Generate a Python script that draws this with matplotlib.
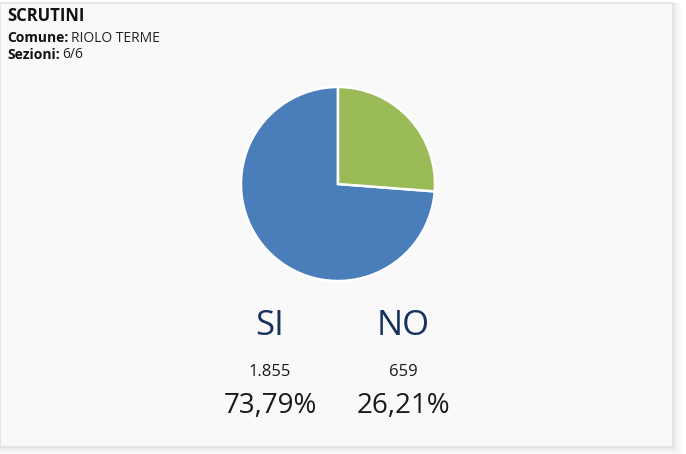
import matplotlib
matplotlib.use("Agg")
import matplotlib.pyplot as plt
from matplotlib.patches import Rectangle

labels = ["SI", "NO"]
votes = [1855, 659]
vote_labels = ["1.855", "659"]
pct_labels = ["73,79%", "26,21%"]
colors = ["#4a7ebb", "#9bbb59"]
title = "SCRUTINI"
comune = "RIOLO TERME"
sezioni = "6/6"

W, H = 686, 454
fig = plt.figure(figsize=(W / 100, H / 100), dpi=100)
fig.patch.set_facecolor("white")
FONT = ["Open Sans", "DejaVu Sans"]

def px(x, y):
    return x / W, 1 - y / H

# card background with soft shadow
bg = fig.add_axes([0, 0, 1, 1])
bg.set_xlim(0, W)
bg.set_ylim(H, 0)
bg.axis("off")
for i, a in enumerate([0.025, 0.02, 0.015, 0.01]):
    bg.add_patch(Rectangle((0, 3), 674 + i * 2 + 2, 445 + i * 2 + 2, facecolor="#000000", alpha=a, edgecolor="none"))
bg.add_patch(Rectangle((0, 3), 673, 444, facecolor="#f9f9f9", edgecolor="#e0e0e0", linewidth=1.2))

# header
fig.text(*px(7, 16), title, fontsize=12, fontweight="bold", family=FONT, color="#111111", va="center", ha="left")
fig.canvas.draw()
r = fig.canvas.get_renderer()
for y, lab, val in [(38, "Comune:", comune), (55, "Sezioni:", sezioni)]:
    t = fig.text(*px(7, y), lab, fontsize=10, fontweight="bold", family=FONT, color="#111111", va="center", ha="left")
    bb = t.get_window_extent(renderer=r)
    fig.text(bb.x1 / W + 3 / W, 1 - y / H, val, fontsize=10, family=FONT, color="#222222", va="center", ha="left")

# pie
cx, cy, rad = 338, 184, 98
ax = fig.add_axes([(cx - rad) / W, 1 - (cy + rad) / H, 2 * rad / W, 2 * rad / H])
ax.pie(votes, colors=colors, startangle=90, counterclock=True,
       wedgeprops=dict(edgecolor="white", linewidth=1.8))
ax.set_xlim(-1.01, 1.01)
ax.set_ylim(-1.01, 1.01)
ax.set_aspect("equal")
ax.axis("off")

# labels
xs = [270, 403]
for x, lab, v, p in zip(xs, labels, vote_labels, pct_labels):
    fig.text(*px(x, 326), lab, fontsize=25, family=FONT, color="#17325f", ha="center", va="center")
    fig.text(*px(x, 372), v, fontsize=12, family=FONT, color="#1a1a1a", ha="center", va="center")
    fig.text(*px(x, 406), p, fontsize=20, family=FONT, color="#1a1a1a", ha="center", va="center")

fig.savefig("out.png", dpi=100, facecolor="white")
